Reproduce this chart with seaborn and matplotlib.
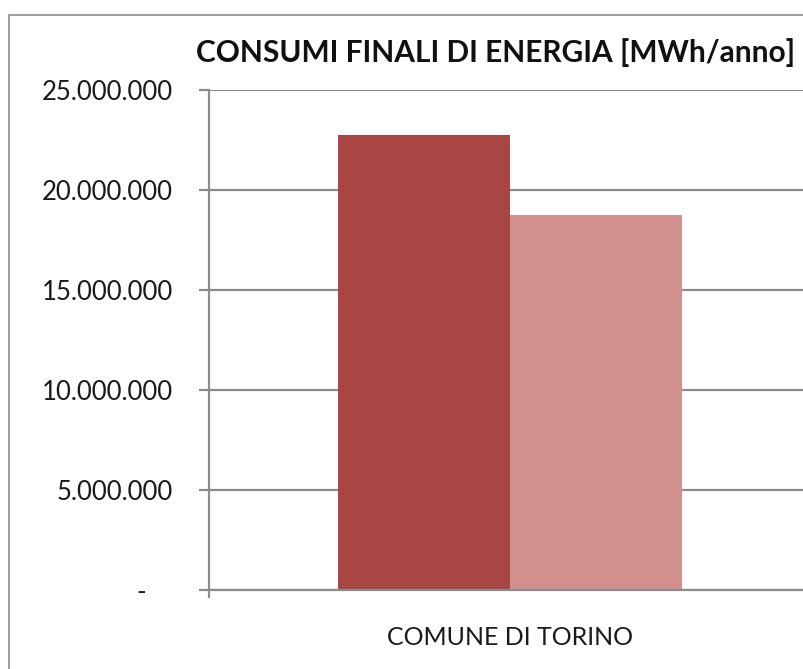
import numpy as np
import pandas as pd
import matplotlib.pyplot as plt
import seaborn as sns
from matplotlib.ticker import FuncFormatter, FixedLocator
from matplotlib.patches import Rectangle

# dati
categorie = ["COMUNE DI TORINO", "COMUNE DI TORINO"]
serie = ["Serie 1", "Serie 2"]
consumi = [22750000, 18750000]
colori = ["#A84644", "#D18F8E"]
y_ticks = [0, 5000000, 10000000, 15000000, 20000000, 25000000]

df = pd.DataFrame({"categoria": categorie, "serie": serie, "consumi": consumi})

sns.set_theme(style="white")
plt.rcParams["font.family"] = ["Lato", "DejaVu Sans"]

fig = plt.figure(figsize=(8.04, 6.69), dpi=100)
W, H = 804, 669
ax = fig.add_axes([209 / W, 79 / H, 602 / W, 500 / H])

sns.barplot(data=df, x="categoria", y="consumi", hue="serie",
            palette=colori, width=0.571, saturation=1, ax=ax,
            edgecolor="none", legend=False)

ax.set_xlim(-0.5, 0.5)
ax.set_ylim(0, 25000000)
ax.yaxis.set_major_locator(FixedLocator(y_ticks))


def fmt(v, pos):
    # formato contabile: lo zero diventa un trattino
    if v == 0:
        return "-    "
    return f"{int(v):,}".replace(",", ".")


ax.yaxis.set_major_formatter(FuncFormatter(fmt))
ax.grid(axis="y", color="#8c8c8c", linewidth=1.6)
ax.set_axisbelow(True)
for s in ["top", "right"]:
    ax.spines[s].set_visible(False)
for s in ["left", "bottom"]:
    ax.spines[s].set_color("#8c8c8c")
    ax.spines[s].set_linewidth(1.6)

ax.tick_params(axis="y", direction="out", length=7, width=1.6, color="#8c8c8c",
               left=True, labelsize=18.5, pad=19, labelcolor="#1a1a1a")
ax.tick_params(axis="x", which="major", length=0, labelsize=18, pad=26,
               labelcolor="#1a1a1a")
ax.set_xticks([-0.5, 0.5], minor=True)
ax.tick_params(axis="x", which="minor", direction="out", length=6, width=1.6,
               color="#8c8c8c", bottom=True)
ax.set_xlabel("")
ax.set_ylabel("")

fig.text(496 / W, 1 - 53 / H, "CONSUMI FINALI DI ENERGIA [MWh/anno]",
         ha="center", va="center", fontsize=21.5, fontweight="bold",
         color="#111111")

# cornice esterna del grafico
fig.patches.append(Rectangle((9 / W, -0.1), 1.2, 1 - 15 / H + 0.1,
                             transform=fig.transFigure, fill=False,
                             edgecolor="#8c8c8c", linewidth=1.2))

fig.savefig("out.png", dpi=100)
